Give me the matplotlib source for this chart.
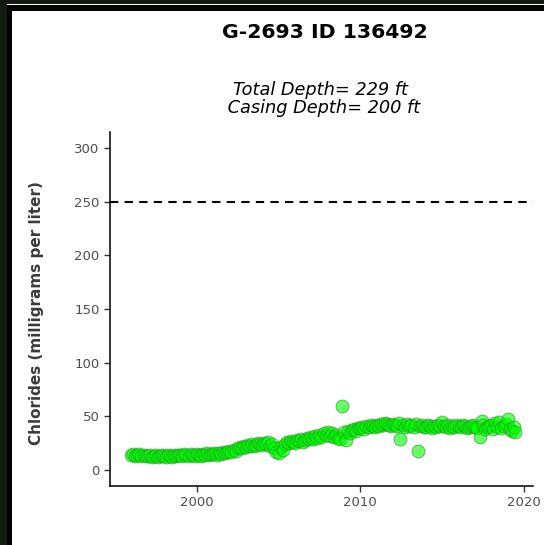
import matplotlib
matplotlib.use("Agg")
import matplotlib.pyplot as plt
from matplotlib.patches import Rectangle

plt.rcParams['font.family'] = ['DejaVu Sans']

# sample dates (decimal years) and chloride values (mg/L)
sample_year = [
    1996.0, 1996.12, 1996.25, 1996.37, 1996.5, 1996.62, 1996.75, 1996.87,
    1997.0, 1997.12, 1997.25, 1997.37, 1997.5, 1997.62, 1997.75, 1997.87,
    1998.0, 1998.12, 1998.25, 1998.37, 1998.5, 1998.62, 1998.75, 1998.87,
    1999.0, 1999.12, 1999.25, 1999.37, 1999.5, 1999.62, 1999.75, 1999.87,
    2000.0, 2000.12, 2000.25, 2000.37, 2000.5, 2000.62, 2000.75, 2000.87,
    2001.0, 2001.12, 2001.25, 2001.37, 2001.5, 2001.62, 2001.75, 2001.87,
    2002.0, 2002.12, 2002.25, 2002.37, 2002.5, 2002.62, 2002.75, 2002.87,
    2003.0, 2003.12, 2003.25, 2003.37, 2003.5, 2003.62, 2003.75, 2003.87,
    2004.0, 2004.12, 2004.25, 2004.37, 2004.5, 2004.62, 2004.75, 2004.87,
    2005.0, 2005.12, 2005.25, 2005.37, 2005.5, 2005.62, 2005.75, 2005.87,
    2006.0, 2006.12, 2006.25, 2006.37, 2006.5, 2006.62, 2006.75, 2006.87,
    2007.0, 2007.12, 2007.25, 2007.37, 2007.5, 2007.62, 2007.75, 2007.87,
    2008.0, 2008.12, 2008.25, 2008.37, 2008.5, 2008.62, 2008.75, 2008.9,
    2009.0, 2009.12, 2009.25, 2009.37, 2009.5, 2009.62, 2009.75, 2009.87,
    2010.0, 2010.12, 2010.25, 2010.37, 2010.5, 2010.62, 2010.75, 2010.87,
    2011.0, 2011.12, 2011.25, 2011.37, 2011.5, 2011.62, 2011.75, 2011.87,
    2012.0, 2012.12, 2012.25, 2012.37, 2012.45, 2012.62, 2012.75, 2012.87,
    2013.0, 2013.12, 2013.25, 2013.37, 2013.5, 2013.62, 2013.75, 2013.87,
    2014.0, 2014.12, 2014.25, 2014.37, 2014.5, 2014.62, 2014.75, 2014.87,
    2015.0, 2015.12, 2015.25, 2015.37, 2015.5, 2015.62, 2015.75, 2015.87,
    2016.0, 2016.12, 2016.25, 2016.37, 2016.5, 2016.62, 2016.75, 2016.87,
    2017.0, 2017.12, 2017.3, 2017.42, 2017.5, 2017.62, 2017.75, 2017.87,
    2018.0, 2018.12, 2018.25, 2018.37, 2018.5, 2018.62, 2018.75, 2018.87,
    2019.0, 2019.12, 2019.25, 2019.37, 2019.45,
]
chloride = [
    14, 15, 13, 14, 15, 13, 14, 13,
    13, 14, 12, 13, 14, 12, 13, 14,
    13, 12, 14, 13, 12, 14, 13, 14,
    14, 13, 15, 14, 13, 15, 14, 13,
    15, 14, 13, 15, 14, 16, 14, 15,
    15, 16, 14, 16, 15, 17, 16, 17,
    18, 17, 19, 18, 20, 21, 20, 22,
    21, 23, 22, 24, 22, 23, 25, 24,
    23, 25, 24, 26, 22, 24, 20, 17,
    16, 21, 19, 24, 26, 25, 27, 26,
    25, 28, 27, 29, 26, 28, 30, 29,
    31, 29, 32, 30, 33, 31, 34, 33,
    35, 32, 34, 31, 33, 30, 29, 60,
    35, 28, 36, 34, 37, 38, 36, 39,
    39, 40, 38, 41, 40, 42, 41, 40,
    42, 41, 43, 42, 44, 43, 42, 41,
    43, 42, 41, 44, 29, 42, 40, 43,
    41, 42, 40, 43, 18, 41, 42, 40,
    40, 42, 41, 39, 41, 40, 42, 41,
    45, 41, 40, 42, 39, 41, 40, 42,
    41, 40, 42, 41, 39, 40, 41, 42,
    40, 39, 31, 46, 42, 38, 40, 41,
    42, 38, 44, 40, 45, 39, 41, 43,
    47, 38, 36, 40, 35,
]
limit = 250
y_ticks = [0, 50, 100, 150, 200, 250, 300]
x_ticks = [2000, 2010, 2020]

W, H = 544, 545
fig = plt.figure(figsize=(W / 100, H / 100), dpi=100)
fig.patch.set_facecolor('white')

# dark screenshot frame on the left / top
frame = [
    ((0, 0), 7 / W, 1, '#141b12'),
    ((0, 1 - 4 / H), 1, 4 / H, '#141812'),
    ((7 / W, 0), 5 / W, 1 - 5.5 / H, 'black'),
    ((7 / W, 1 - 5.5 / H), 1 - 7 / W, 1.5 / H, 'white'),
    ((7 / W, 1 - 11 / H), 1 - 7 / W, 5.5 / H, 'black'),
]
for xy, w, h, c in frame:
    fig.patches.append(Rectangle(xy, w, h, transform=fig.transFigure,
                                 facecolor=c, edgecolor='none', zorder=0))

ax = fig.add_axes([110 / W, 1 - 486 / H, (533 - 110) / W, (486 - 132) / H])
ax.axhline(limit, color='black', lw=1.5, dashes=(4, 3))
ax.scatter(sample_year, chloride, s=85, facecolor='#00ff00', edgecolor='#229922',
           linewidth=0.8, alpha=0.6, zorder=3)

ax.set_xlim(1994.7, 2020.55)
ax.set_ylim(-15, 315)
ax.set_xticks(x_ticks)
ax.set_yticks(y_ticks)
ax.tick_params(length=4, width=1, color='#333333', labelcolor='#4d4d4d', labelsize=9.5)
for side in ['top', 'right']:
    ax.spines[side].set_visible(False)
for side in ['left', 'bottom']:
    ax.spines[side].set_linewidth(1.1)

fig.text(0.598, 1 - 32 / H, 'G-2693 ID 136492', ha='center', va='center',
         fontsize=14.7, fontweight='bold')
fig.text(0.59, 1 - 99 / H, 'Total Depth= 229 ft\n Casing Depth= 200 ft', ha='center',
         va='center', fontsize=12.8, style='italic', linespacing=0.95)
fig.text(0.068, 1 - 313 / H, 'Chlorides (milligrams per liter)', rotation=90,
         ha='center', va='center', fontsize=11, fontweight='bold', color='#3a3a3a')

fig.savefig('out.png', dpi=100)
